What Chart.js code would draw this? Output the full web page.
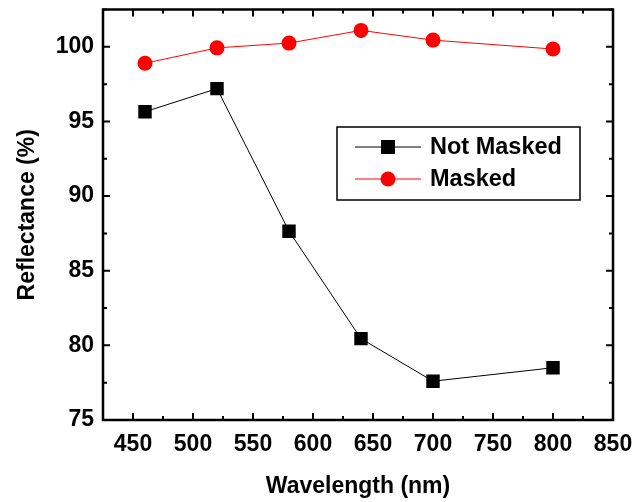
<!DOCTYPE html>
<html>
<head>
<meta charset="utf-8">
<script src="https://cdn.jsdelivr.net/npm/chart.js@4/dist/chart.umd.min.js"></script>
<style>
  html, body { margin: 0; padding: 0; background: #fff; }
  #wrap { width: 635px; height: 502px; }
</style>
</head>
<body>
<div id="wrap"><canvas id="c" width="635" height="502"></canvas></div>
<script>
// Wavelengths (nm) and measured reflectance (%)
const wavelengths = [460, 520, 580, 640, 700, 800];
const notMasked = [95.65, 97.2, 87.65, 80.45, 77.6, 78.5];
const masked = [98.9, 99.93, 100.25, 101.1, 100.45, 99.85];

const seriesNames = ['Not Masked', 'Masked'];
const xTicks = [450, 500, 550, 600, 650, 700, 750, 800, 850];
const yTicks = [75, 80, 85, 90, 95, 100];
const xMinorTicks = [475, 525, 575, 625, 675, 725, 775, 825];
const yMinorTicks = [77.5, 82.5, 87.5, 92.5, 97.5, 102.5];

const FONT = 'Liberation Sans, Arial, Helvetica, sans-serif';

// Inward tick marks on all four sides plus the closed frame
const framePlugin = {
  id: 'frame',
  afterDatasetsDraw(chart) {
    const { ctx, chartArea: a, scales: { x, y } } = chart;
    ctx.save();
    ctx.strokeStyle = '#000';
    ctx.lineWidth = 2;
    ctx.lineCap = 'butt';
    const tick = (v, len, isX) => {
      ctx.beginPath();
      if (isX) {
        const px = x.getPixelForValue(v);
        ctx.moveTo(px, a.bottom); ctx.lineTo(px, a.bottom - len);
        ctx.moveTo(px, a.top); ctx.lineTo(px, a.top + len);
      } else {
        const py = y.getPixelForValue(v);
        ctx.moveTo(a.left, py); ctx.lineTo(a.left + len, py);
        ctx.moveTo(a.right, py); ctx.lineTo(a.right - len, py);
      }
      ctx.stroke();
    };
    xTicks.forEach(v => tick(v, 7, true));
    xMinorTicks.forEach(v => tick(v, 4, true));
    yTicks.forEach(v => tick(v, 7, false));
    yMinorTicks.forEach(v => tick(v, 4, false));
    ctx.lineWidth = 2.5;
    ctx.strokeRect(a.left, a.top, a.right - a.left, a.bottom - a.top);
    ctx.restore();
  }
};

// Boxed legend inside the plot area
const legendBoxPlugin = {
  id: 'legendBox',
  afterDraw(chart) {
    const { ctx } = chart;
    const bx = 337, by = 127, bw = 243, bh = 73;
    ctx.save();
    ctx.fillStyle = '#fff';
    ctx.fillRect(bx, by, bw, bh);
    ctx.strokeStyle = '#000';
    ctx.lineWidth = 1.5;
    ctx.strokeRect(bx, by, bw, bh);
    chart.data.datasets.forEach((ds, i) => {
      const cy = 147 + i * 32;
      ctx.strokeStyle = ds.borderColor;
      ctx.lineWidth = 1;
      ctx.beginPath();
      ctx.moveTo(355, cy); ctx.lineTo(421, cy);
      ctx.stroke();
      ctx.fillStyle = ds.pointBackgroundColor;
      ctx.beginPath();
      if (ds.pointStyle === 'rect') {
        ctx.rect(388 - 7, cy - 7, 14, 14);
      } else {
        ctx.arc(388, cy, 7.5, 0, Math.PI * 2);
      }
      ctx.fill();
      ctx.fillStyle = '#000';
      ctx.font = 'bold 23.5px ' + FONT;
      ctx.textAlign = 'left';
      ctx.textBaseline = 'middle';
      ctx.fillText(ds.label, 430, cy + 1);
    });
    ctx.restore();
  }
};

const toPoints = (xs, ys) => xs.map((v, i) => ({ x: v, y: ys[i] }));

new Chart(document.getElementById('c'), {
  type: 'line',
  data: {
    datasets: [
      {
        label: seriesNames[0],
        data: toPoints(wavelengths, notMasked),
        borderColor: '#000',
        borderWidth: 1,
        pointStyle: 'rect',
        pointRadius: 9.5,
        pointBackgroundColor: '#000',
        pointBorderWidth: 0,
        tension: 0
      },
      {
        label: seriesNames[1],
        data: toPoints(wavelengths, masked),
        borderColor: '#ff0000',
        borderWidth: 1,
        pointStyle: 'circle',
        pointRadius: 7.5,
        pointBackgroundColor: '#ff0000',
        pointBorderWidth: 0,
        tension: 0
      }
    ]
  },
  options: {
    responsive: false,
    animation: false,
    devicePixelRatio: 1,
    layout: { padding: { top: 9, right: 22, left: 0, bottom: 0 } },
    plugins: { legend: { display: false }, tooltip: { enabled: false } },
    scales: {
      x: {
        type: 'linear',
        min: 425,
        max: 850,
        afterBuildTicks(s) { s.ticks = xTicks.map(v => ({ value: v })); },
        afterFit(s) { s.height = 82; s.paddingLeft = 0; s.paddingRight = 0; },
        grid: { display: false, drawTicks: false },
        border: { display: false },
        ticks: {
          color: '#000',
          padding: 11,
          maxRotation: 0,
          autoSkip: false,
          font: { family: FONT, size: 23, weight: 'bold' }
        },
        title: {
          display: true,
          text: 'Wavelength (nm)',
          color: '#000',
          padding: { top: 0, bottom: 2 },
          font: { family: FONT, size: 23, weight: 'bold' }
        }
      },
      y: {
        type: 'linear',
        min: 75,
        max: 102.5,
        afterBuildTicks(s) { s.ticks = yTicks.map(v => ({ value: v })); },
        afterFit(s) { s.width = 103; s.paddingTop = 0; s.paddingBottom = 0; },
        grid: { display: false, drawTicks: false },
        border: { display: false },
        ticks: {
          color: '#000',
          padding: 9,
          autoSkip: false,
          font: { family: FONT, size: 23, weight: 'bold' }
        },
        title: {
          display: true,
          text: 'Reflectance (%)',
          color: '#000',
          padding: { top: 14, bottom: 0 },
          font: { family: FONT, size: 23, weight: 'bold' }
        }
      }
    }
  },
  plugins: [framePlugin, legendBoxPlugin]
});
</script>
</body>
</html>
